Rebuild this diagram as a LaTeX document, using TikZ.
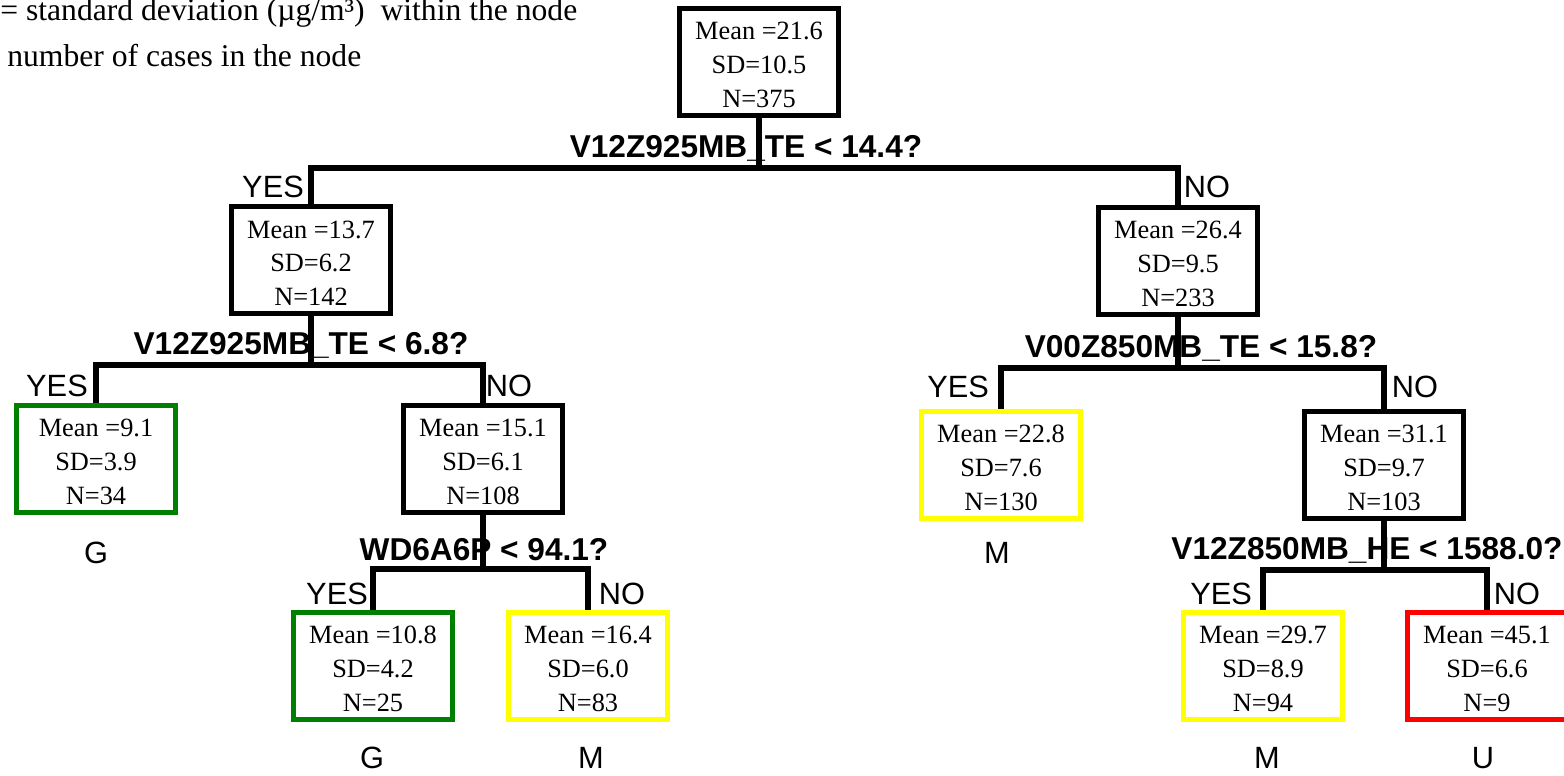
\documentclass[tikz,border=0pt]{standalone}
\usepackage{fontspec}
\setmainfont{Liberation Serif}
\setsansfont{Liberation Sans}
\usepackage{xcolor}
\usepackage{tikz}
\usetikzlibrary{positioning}
\definecolor{leafgreen}{RGB}{0,128,0}
\definecolor{leafyellow}{RGB}{255,255,0}
\definecolor{leafred}{RGB}{255,0,0}
\newcommand{\nodestats}[3]{\rule{0pt}{13.6pt}Mean =#1\\SD=#2\\N=#3}
\tikzset{
  treebox/.style={draw, line width=3pt, fill=white, minimum width=3.18cm, minimum height=2.14cm,
    inner sep=0pt, align=center, font=\fontsize{15}{19.3}\selectfont},
  branch/.style={line width=3pt},
  question/.style={font=\sffamily\bfseries\fontsize{18}{20}\selectfont, inner sep=0pt},
  answer/.style={font=\sffamily\fontsize{17.5}{20}\selectfont, inner sep=0pt},
  legendtxt/.style={font=\fontsize{18}{22}\selectfont, inner sep=0pt, anchor=west}
}

\begin{document}
\begin{tikzpicture}[x=0.02cm, y=-0.02cm]
    \useasboundingbox (0,0) rectangle (1564,776);

    % Legend text (top left)
    \node[legendtxt] (legsd) at (0,13) {= standard deviation (µg/m³) \ within the node};
    \node[legendtxt] (legn) at (7,56) {number of cases in the node};

    % Split questions
    \node[question] (q1) at (746,148) {V12Z925MB\_TE < 14.4?};
    \node[question] (q2) at (301,345) {V12Z925MB\_TE < 6.8?};
    \node[question] (q3) at (484,550) {WD6A6P < 94.1?};
    \node[question] (q4) at (1201,348) {V00Z850MB\_TE < 15.8?};
    \node[question] (q5) at (1367,550) {V12Z850MB\_HE < 1588.0?};

    % YES / NO labels
    \node[answer] (yes1) at (273,187) {YES};
    \node[answer] (no1) at (1207,187) {NO};
    \node[answer] (yes2) at (57,386) {YES};
    \node[answer] (no2) at (509,386) {NO};
    \node[answer] (yes3) at (337,594) {YES};
    \node[answer] (no3) at (622,594) {NO};
    \node[answer] (yes4) at (958,387) {YES};
    \node[answer] (no4) at (1415,387) {NO};
    \node[answer] (yes5) at (1221,594) {YES};
    \node[answer] (no5) at (1517,594) {NO};

    % Tree nodes
    \node[treebox] (root) at (759,62) {\nodestats{21.6}{10.5}{375}};
    \node[treebox] (n1) at (311,260) {\nodestats{13.7}{6.2}{142}};
    \node[treebox] (n2) at (1178,261) {\nodestats{26.4}{9.5}{233}};
    \node[treebox, draw=leafgreen] (n3) at (96,459) {\nodestats{9.1}{3.9}{34}};
    \node[treebox] (n4) at (483,459) {\nodestats{15.1}{6.1}{108}};
    \node[treebox, draw=leafyellow] (n5) at (1001,465) {\nodestats{22.8}{7.6}{130}};
    \node[treebox] (n6) at (1384,465) {\nodestats{31.1}{9.7}{103}};
    \node[treebox, draw=leafgreen] (n7) at (373,666) {\nodestats{10.8}{4.2}{25}};
    \node[treebox, draw=leafyellow] (n8) at (588,666) {\nodestats{16.4}{6.0}{83}};
    \node[treebox, draw=leafyellow] (n9) at (1263,666) {\nodestats{29.7}{8.9}{94}};
    \node[treebox, draw=leafred] (n10) at (1487,666) {\nodestats{45.1}{6.6}{9}};

    % Class labels under the leaves
    \node[answer] (c3) at (96,553) {G};
    \node[answer] (c5) at (997,553) {M};
    \node[answer] (c7) at (372,758) {G};
    \node[answer] (c8) at (591,758) {M};
    \node[answer] (c9) at (1267,758) {M};
    \node[answer] (c10) at (1483,758) {U};

    % Junctions and branches
    \coordinate (j1) at (759,168);
    \coordinate (j2) at (311,365);
    \coordinate (j3) at (1178,368);
    \coordinate (j4) at (483,569);
    \coordinate (j5) at (1384,570);
    \draw[branch] (root.south) -- (j1);
    \draw[branch] (n1.north) |- (j1) -| (n2.north);
    \draw[branch] (n1.south) -- (j2);
    \draw[branch] (n3.north) |- (j2) -| (n4.north);
    \draw[branch] (n2.south) -- (j3);
    \draw[branch] (n5.north) |- (j3) -| (n6.north);
    \draw[branch] (n4.south) -- (j4);
    \draw[branch] (n7.north) |- (j4) -| (n8.north);
    \draw[branch] (n6.south) -- (j5);
    \draw[branch] (n9.north) |- (j5) -| (n10.north);
\end{tikzpicture}
\end{document}
